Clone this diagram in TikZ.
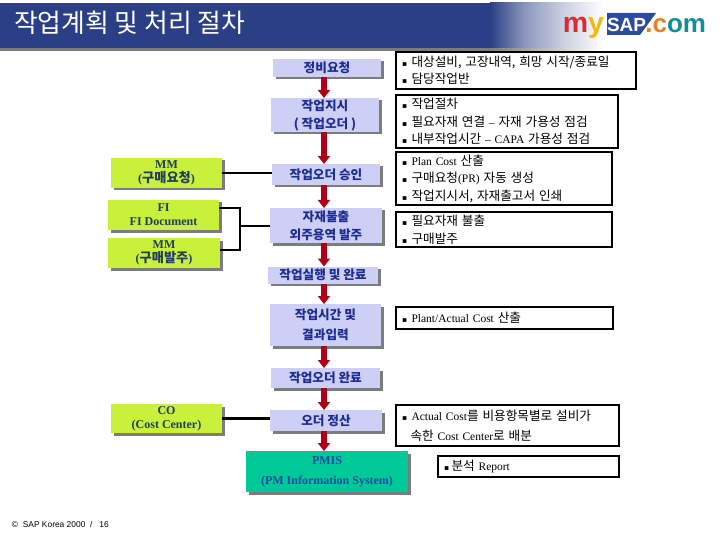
\documentclass[tikz,border=0pt]{standalone}
\usepackage{fontspec}
\setmainfont{Liberation Serif}
\setsansfont{Liberation Sans}
\newfontfamily\krfont[Scale=1.1]{Noto Sans CJK KR}
\newfontfamily\symfont{DejaVu Sans}
\usetikzlibrary{arrows.meta, shadows}
\definecolor{cband}{HTML}{2A3F85}
\definecolor{cflow}{HTML}{CDCFF5}
\definecolor{cflowtext}{HTML}{1C2C90}
\definecolor{cgreen}{HTML}{C9F03A}
\definecolor{cgreentext}{HTML}{1F3D5C}
\definecolor{cteal}{HTML}{00C896}
\definecolor{cpmistext}{HTML}{1A4AA8}
\definecolor{cshadow}{HTML}{7C7C7C}
\definecolor{cred}{HTML}{B00018}
\definecolor{clogored}{HTML}{D92B35}
\definecolor{clogoyellow}{HTML}{F2B90F}
\definecolor{clogoorange}{HTML}{E8801A}
\definecolor{clogoblue}{HTML}{2B4C9C}
\definecolor{clogoteal}{HTML}{128E98}
\pgfdeclarehorizontalshading{bandfade}{100bp}{color(0bp)=(cband); color(25bp)=(cband); color(40bp)=(cband!55!white); color(57bp)=(cband!25!white); color(75bp)=(white); color(100bp)=(white)}
\pgfdeclarehorizontalshading{shadowfade}{100bp}{color(0bp)=(cshadow); color(25bp)=(cshadow); color(75bp)=(white); color(100bp)=(white)}
\newcommand{\kr}[1]{{\krfont #1}}
\newcommand{\bul}[1][9.5pt]{\makebox[#1][l]{\symfont\fontsize{7.5}{8}\selectfont ▪}}
\tikzset{
  every node/.style={inner sep=0pt, outer sep=0pt},
  boxshadow/.style={drop shadow={shadow xshift=2.5pt, shadow yshift=-2.5pt, fill=cshadow, opacity=1}},
  flowbox/.style={fill=cflow, text=cflowtext, boxshadow, align=center, font=\krfont\bfseries\fontsize{11.5}{18}\selectfont},
  sidebox/.style={fill=cgreen, text=cgreentext, boxshadow, align=center, font=\bfseries\fontsize{12}{14}\selectfont},
  pmisbox/.style={fill=cteal, text=cpmistext, boxshadow, align=center, font=\bfseries\fontsize{12}{20}\selectfont},
  notebox/.style={draw=black, line width=2pt, anchor=north west, align=left, text width=#1, inner xsep=6pt, font=\fontsize{11.5}{17.5}\selectfont},
  flowarrow/.style={-{Triangle[length=8pt, width=12pt]}, draw=cred, line width=5.5pt},
  link/.style={draw=black, line width=2.7pt},
}
\begin{document}
\begin{tikzpicture}[x=1pt, y=-1pt]
  \useasboundingbox (0,0) rectangle (720,540);
  % title band
  \fill[cshadow] (0,48) rectangle (490,51);
  \shade[shading=shadowfade] (490,48) rectangle (603,51);
  \fill[cband] (0,3) rectangle (490,48);
  \shade[shading=bandfade] (490,3) rectangle (603,48);
  \node[text=white, anchor=west, font=\krfont\fontsize{23.5}{26}\selectfont] (title) at (14,23) {작업계획 및 처리 절차};
  % logo
  \fill[clogoblue] (607,13) -- (656,13) -- (640,35) -- (607,35) -- cycle;
  \node[text=white, font=\sffamily\bfseries\fontsize{19}{20}\selectfont, anchor=base west] (logosap) at (607,32) {SAP};
  \node[anchor=base east, font=\sffamily\bfseries\fontsize{28.5}{30}\selectfont] (logomy) at (604,33) {\textcolor{clogored}{m}\textcolor{clogoyellow}{y}};
  \node[anchor=base east, font=\sffamily\bfseries\fontsize{26}{28}\selectfont] (logocom) at (706,33) {\textcolor{clogoorange}{.c}\textcolor{clogoteal}{om}};
  % centre column
  \coordinate (flowx) at (324,0);
  \node[flowbox, minimum width=108pt, minimum height=18pt] (request) at (327,68) {정비요청};
  \node[flowbox, minimum width=108pt, minimum height=34pt] (order) at (325,115) {작업지시\\( 작업오더 )};
  \node[flowbox, minimum width=108pt, minimum height=21pt] (approve) at (326,174.5) {작업오더 승인};
  \node[flowbox, minimum width=112pt, minimum height=35pt] (issue) at (326,225.5) {자재불출\\외주용역 발주};
  \node[flowbox, minimum width=110pt, minimum height=17pt] (execute) at (323,275) {작업실행 및 완료};
  \node[flowbox, minimum width=111pt, minimum height=42pt] (result) at (325.5,325) {작업시간 및\\[2pt]결과입력};
  \node[flowbox, minimum width=109pt, minimum height=20pt] (finish) at (325.5,378) {작업오더 완료};
  \node[flowbox, minimum width=112pt, minimum height=21pt] (settle) at (326,420.5) {오더 정산};
  \node[pmisbox, minimum width=162pt, minimum height=41pt] (pmis) at (327,471.5) {PMIS\\(PM Information System)};
  % left column
  \node[sidebox, minimum width=111pt, minimum height=30pt] (mmreq) at (166.5,173) {MM\\(\kr{구매요청})};
  \node[sidebox, minimum width=111pt, minimum height=30pt] (fidoc) at (163.5,215) {FI\\FI Document};
  \node[sidebox, minimum width=112pt, minimum height=30pt] (mmpo) at (164,253) {MM\\(\kr{구매발주})};
  \node[sidebox, minimum width=111pt, minimum height=29pt] (cocenter) at (166.5,418.5) {CO\\(Cost Center)};
  % notes
  \node[notebox=228pt, minimum height=37pt] (noterequest) at (396,52) {\bul\kr{대상설비, 고장내역, 희망 시작/종료일}\\\bul\kr{담당작업반}};
  \node[notebox=210pt, minimum height=53pt] (noteorder) at (396,95) {\bul\kr{작업절차}\\\bul\kr{필요자재 연결} -- \kr{자재 가용성 점검}\\\bul\kr{내부작업시간} -- CAPA \kr{가용성 점검}};
  \node[notebox=204pt, minimum height=53pt] (noteapprove) at (396,152) {\bul Plan Cost \kr{산출}\\\bul\kr{구매요청}(PR) \kr{자동 생성}\\\bul\kr{작업지시서, 자재출고서 인쇄}};
  \node[notebox=204pt, minimum height=35pt] (noteissue) at (396,212) {\bul\kr{필요자재 불출}\\\bul\kr{구매발주}};
  \node[notebox=205pt, minimum height=22pt] (noteresult) at (396,307) {\bul Plant/Actual Cost \kr{산출}};
  \node[notebox=211pt, minimum height=41pt] (notesettle) at (396,405) {\bul Actual Cost\kr{를 비용항목별로 설비가}\\[2pt]\hspace{8.5pt}\kr{속한} Cost Center\kr{로 배분}};
  \node[notebox=169pt, minimum height=21pt] (notepmis) at (438,456) {\bul[7.5pt]\kr{분석} Report};
  % arrows
  \foreach \a/\b in {request/order, order/approve, approve/issue, issue/execute, execute/result, result/finish, finish/settle, settle/pmis} {
    \draw[flowarrow] (flowx |- \a.south) -- (flowx |- \b.north);
  }
  % links
  \draw[link] (mmreq.east) -- (mmreq.east -| approve.west);
  \draw[link] (cocenter.east) -- (cocenter.east -| settle.west);
  \coordinate (joint) at (240,226);
  \draw[link] (fidoc.east |- 0,208) -| (joint) |- (mmpo.east |- 0,250);
  \draw[link] (joint) -- (joint -| issue.west);
  % footer
  \node[anchor=west, font=\sffamily\fontsize{8.4}{9}\selectfont] (footer) at (12,524) {©\ \ SAP Korea 2000 \ / \ \ 16};
\end{tikzpicture}
\end{document}
